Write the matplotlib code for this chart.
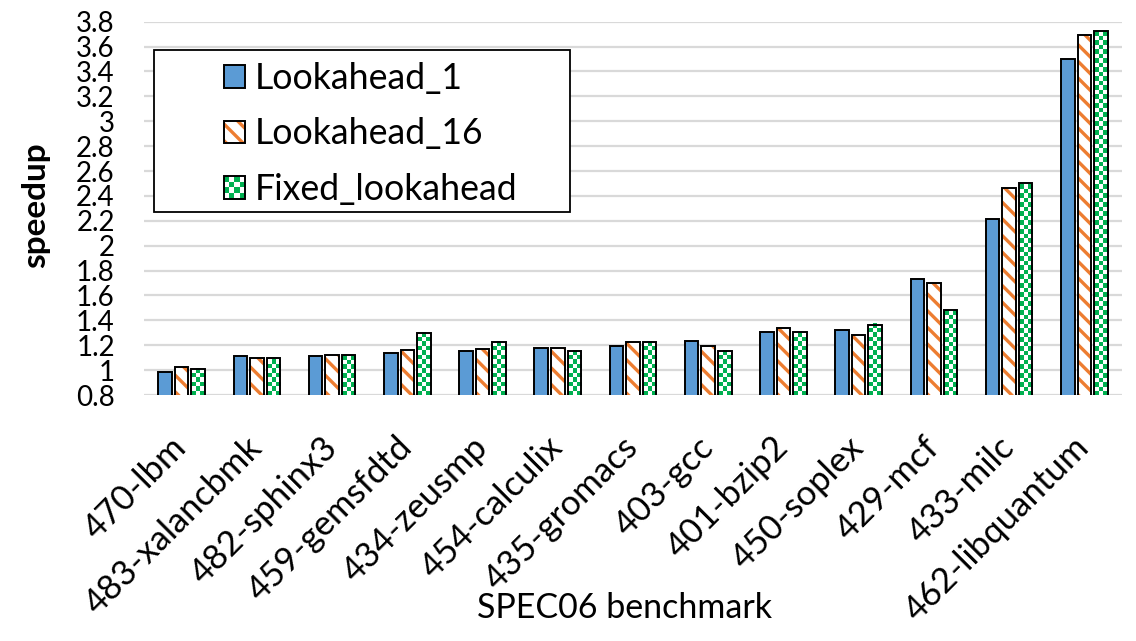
import numpy as np
import matplotlib
matplotlib.use('Agg')
import matplotlib.pyplot as plt
from matplotlib.patches import Rectangle, Patch
from matplotlib.legend_handler import HandlerBase, HandlerTuple

# ---------------- data ----------------
benchmarks = ['470-lbm', '483-xalancbmk', '482-sphinx3', '459-gemsfdtd', '434-zeusmp',
              '454-calculix', '435-gromacs', '403-gcc', '401-bzip2', '450-soplex',
              '429-mcf', '433-milc', '462-libquantum']
lookahead_1 = [0.985, 1.11, 1.11, 1.14, 1.155, 1.18, 1.195, 1.235, 1.31, 1.32, 1.735, 2.215, 3.50]
lookahead_16 = [1.027, 1.095, 1.125, 1.165, 1.167, 1.18, 1.225, 1.195, 1.335, 1.28, 1.70, 2.465, 3.69]
fixed_lookahead = [1.01, 1.095, 1.125, 1.295, 1.225, 1.155, 1.225, 1.155, 1.31, 1.365, 1.48, 2.50, 3.725]
series_names = ['Lookahead_1', 'Lookahead_16', 'Fixed_lookahead']
y_ticks = [0.8, 1.0, 1.2, 1.4, 1.6, 1.8, 2.0, 2.2, 2.4, 2.6, 2.8, 3.0, 3.2, 3.4, 3.6, 3.8]
y_tick_labels = ['0.8', '1', '1.2', '1.4', '1.6', '1.8', '2', '2.2', '2.4', '2.6', '2.8',
                 '3', '3.2', '3.4', '3.6', '3.8']

BLUE = '#5B9BD5'
ORANGE = '#ED7D31'
GREEN = '#00B050'
GRID = '#D9D9D9'
EDGE_LW = 1.4
HATCH = '\\\\'

plt.rcParams['font.family'] = ['Lato', 'DejaVu Sans']
plt.rcParams['hatch.linewidth'] = 2.4

W, H = 1136, 641
fig = plt.figure(figsize=(W / 100, H / 100), dpi=100)
ax = fig.add_axes([144 / W, 1 - 395 / H, 978 / W, 373.3 / H])
x = np.arange(len(benchmarks))
ax.set_xlim(-0.5, len(benchmarks) - 0.5)
ax.set_ylim(0.8, 3.8)

off = 0.22
bw = 0.18

ax.bar(x - off, lookahead_1, bw, color=BLUE, edgecolor='black', linewidth=EDGE_LW, zorder=3)
ax.bar(x, lookahead_16, bw, color='white', edgecolor=ORANGE, hatch=HATCH, linewidth=0, zorder=3)
ax.bar(x, lookahead_16, bw, color='none', edgecolor='black', linewidth=EDGE_LW, zorder=5)
green_bars = ax.bar(x + off, fixed_lookahead, bw, color='white', edgecolor='none', linewidth=0, zorder=3)
ax.bar(x + off, fixed_lookahead, bw, color='none', edgecolor='black', linewidth=EDGE_LW, zorder=5)

# checkerboard texture inside green bars
green_rgb = np.array(matplotlib.colors.to_rgb(GREEN))
white_rgb = np.array([1.0, 1.0, 1.0])
cell = 4.5
for rect in green_bars:
    x0 = rect.get_x()
    x1 = x0 + rect.get_width()
    y0 = rect.get_y()
    y1 = y0 + rect.get_height()
    (px0, py0), (px1, py1) = ax.transData.transform([(x0, y0), (x1, y1)])
    nc = max(1, int(round((px1 - px0) / cell)))
    nr = max(1, int(round((py1 - py0) / cell)))
    ii, jj = np.meshgrid(np.arange(nc), np.arange(nr))
    mask = ((ii + jj) % 2 == 0)
    img = np.where(mask[..., None], green_rgb, white_rgb)
    ax.imshow(img, extent=[x0, x0 + nc * cell * (x1 - x0) / (px1 - px0), y0,
                           y0 + nr * cell * (y1 - y0) / (py1 - py0)],
              origin='lower', interpolation='nearest', aspect='auto', zorder=4)
ax.set_xlim(-0.5, len(benchmarks) - 0.5)
ax.set_ylim(0.8, 3.8)

# axes styling
for s in ax.spines.values():
    s.set_visible(False)
ax.set_yticks(y_ticks)
ax.set_yticklabels(y_tick_labels)
ax.yaxis.grid(True, color=GRID, linewidth=1.6, zorder=0)
ax.set_axisbelow(True)
ax.tick_params(axis='y', length=0, labelsize=20, pad=21)
ax.set_xticks(x)
ax.set_xticklabels(benchmarks, rotation=45, ha='right', va='center', rotation_mode='anchor', fontsize=25)
ax.tick_params(axis='x', length=0, pad=34)


# legend
class CheckerProxy:
    pass


class HandlerChecker(HandlerBase):
    def create_artists(self, legend, orig_handle, xdescent, ydescent, width, height, fontsize, trans):
        arts = [Rectangle((-xdescent, -ydescent), width, height, fc='white', ec='none', transform=trans)]
        n = 4
        cw, ch = width / n, height / n
        for i in range(n):
            for j in range(n):
                if (i + j) % 2 == 1:
                    arts.append(Rectangle((-xdescent + i * cw, -ydescent + j * ch), cw, ch,
                                          fc=GREEN, ec='none', transform=trans))
        arts.append(Rectangle((-xdescent, -ydescent), width, height, fc='none', ec='black',
                              lw=EDGE_LW, transform=trans))
        return arts


handles = [Patch(fc=BLUE, ec='black', lw=EDGE_LW),
           (Patch(fc='white', ec=ORANGE, hatch=HATCH, lw=0), Patch(fc='none', ec='black', lw=EDGE_LW)),
           CheckerProxy()]

frame = Rectangle((154 / W, 1 - 212 / H), (570 - 154) / W, 162 / H, transform=fig.transFigure,
                  fc='white', ec='black', lw=1.3, zorder=6, clip_on=False)
ax.add_artist(frame)

LEG_FS = 25.7
leg = ax.legend(handles, series_names,
                handler_map={tuple: HandlerTuple(ndivide=1, pad=0), CheckerProxy: HandlerChecker()},
                loc='upper left', bbox_to_anchor=(224 / W, 1 - 62 / H), bbox_transform=fig.transFigure,
                frameon=False, fontsize=LEG_FS, handlelength=21 / (LEG_FS * 100 / 72),
                handleheight=21 / (LEG_FS * 100 / 72),
                handletextpad=10 / (LEG_FS * 100 / 72), labelspacing=0.63, borderpad=0, borderaxespad=0)
leg.set_zorder(7)

fig.text(36 / W, 1 - 205 / H, 'speedup', rotation=90, fontweight='bold', fontsize=24,
         ha='center', va='center')
fig.text(625 / W, 1 - 618 / H, 'SPEC06 benchmark', fontsize=24.5, ha='center', va='baseline')

fig.savefig('out.png', dpi=100)
